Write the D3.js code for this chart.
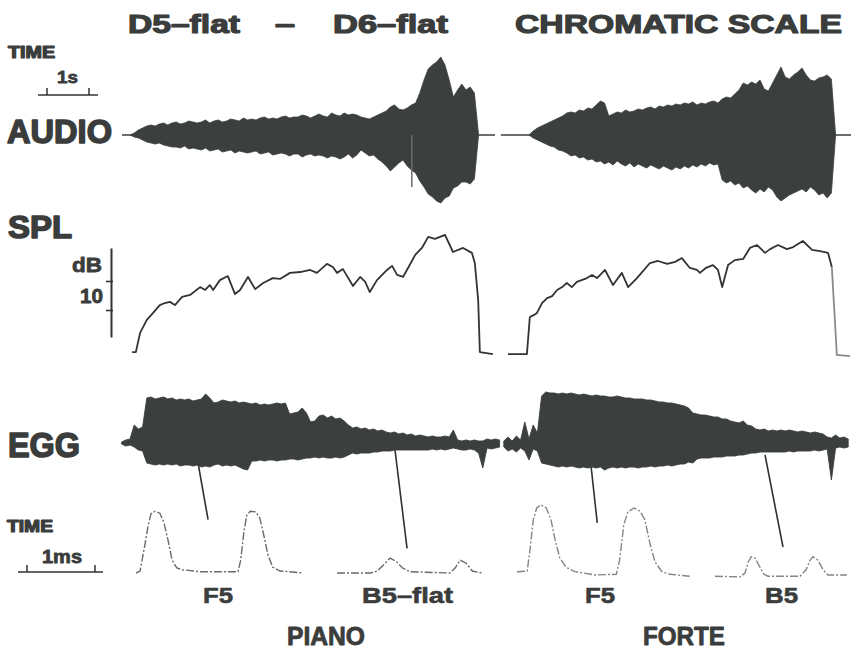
<!DOCTYPE html>
<html>
<head>
<meta charset="utf-8">
<script src="https://cdn.jsdelivr.net/npm/d3@7"></script>
<style>
  body { margin: 0; background: #fff; }
  svg { display: block; background: #fff; }
  text { font-family: "Liberation Sans", Arial, Helvetica, sans-serif; font-weight: bold; fill: #3a3d3c; stroke: #3a3d3c; stroke-linejoin: round; }
</style>
</head>
<body>
<svg id="chart" width="851" height="651"></svg>
<script>
// ---------- Audio envelope (arbitrary amplitude units), sampled every 0.1 s ----------
const audioStep = 0.1;
const audioPianoStart = 0;
const audioPianoUpper = [0,2,5,7,9,10,9,11,12,10, 12,13,11,12,14,13,12,13,15,12, 14,15,13,14,16,15,14,17,15,16,
  15,17,18,16,17,16,18,19,17,18, 18,20,19,17,19,21,19,18,22,20, 19,22,20,21,20,18,17,16,18,20,
  22,24,28,30,26,25,27,30,32,42, 55,66,70,73,78,70,55,38,45,51, 45,48,42,0];
const audioPianoLower = [0,2,3,5,7,8,9,8,10,11, 12,12,13,11,14,13,14,15,13,16, 15,14,17,16,15,18,16,17,18,17,
  16,19,18,17,20,19,18,19,21,19, 19,22,20,19,21,20,21,23,21,22, 24,22,19,23,20,15,18,21,20,24,
  27,31,36,32,28,25,31,35,38,46, 52,59,62,66,68,63,61,53,51,47, 47,49,44,0];
const audioForteStart = 9.5;
const audioForteUpper = [0,4,7,9,11,13,15,17,19,22, 23,22,25,24,27,26,30,34,32,19, 21,23,22,25,23,24,26,25,27,28,
  26,29,28,30,29,31,30,32,31,33, 30,32,31,33,34,32,36,38,37,41, 45,52,50,53,51,55,46,44,52,60,
  68,58,56,60,63,67,60,55,54,57, 58,60,56,0];
const audioForteLower = [0,3,5,7,9,11,12,15,16,18, 21,20,23,22,25,24,27,26,29,27, 30,26,29,31,28,32,29,31,33,30,
  32,34,31,33,35,32,34,31,33,30, 32,29,31,28,30,29,45,48,46,50, 48,53,51,55,58,54,57,52,55,62,
  66,63,60,58,56,54,57,52,55,60, 58,63,58,0];
// isolated transient spikes [time s, amplitude]
const audioSpikes = [[6.71, -52]];
// silent baseline stretches [from s, to s]
const audioBaseline = [[-0.19, 8.69], [8.83, 17.2]];

// ---------- SPL (dB) ----------
const splPiano = [[0.05,5.5],[0.14,5.5],[0.24,12.1],[0.40,16.6],[0.55,19.0],[0.71,21.7],[0.83,22.4],[0.95,22.8],
  [1.07,21.7],[1.24,24.5],[1.43,25.2],[1.67,27.9],[1.79,26.9],[1.90,28.6],[1.98,26.9],[2.14,30.3],[2.33,31.7],
  [2.50,25.5],[2.62,26.9],[2.81,31.4],[2.98,27.2],[3.17,29.3],[3.40,31.0],[3.57,30.7],[3.81,32.8],[4.05,33.1],
  [4.29,33.8],[4.45,32.8],[4.69,35.9],[4.83,34.8],[4.93,32.8],[5.07,34.1],[5.31,28.3],[5.48,31.4],[5.60,29.7],
  [5.71,26.2],[5.88,30.3],[6.12,33.8],[6.24,35.2],[6.36,32.1],[6.50,31.4],[6.62,34.5],[6.79,39.0],[6.95,41.4],
  [7.10,45.2],[7.26,44.5],[7.50,45.9],[7.69,40.0],[7.93,41.4],[8.14,39.7],[8.21,36.2],[8.29,23.4],[8.33,5.5],[8.64,4.8]];
const splForte = [[9.0,4.8],[9.45,4.8],[9.52,17.6],[9.62,18.3],[9.69,19.0],[9.81,22.4],[9.93,24.1],[10.05,24.8],
  [10.17,26.9],[10.29,27.9],[10.40,29.3],[10.52,27.9],[10.64,29.7],[10.88,31.0],[11.0,32.1],[11.12,31.0],[11.31,33.8],
  [11.50,28.6],[11.71,32.8],[11.86,27.9],[12.07,31.0],[12.38,36.2],[12.57,36.9],[12.79,35.9],[12.98,36.6],[13.14,37.9],
  [13.33,34.5],[13.50,33.8],[13.57,32.8],[13.71,34.5],[13.88,35.5],[14.0,33.8],[14.10,27.9],[14.24,35.5],[14.40,37.2],
  [14.60,37.6],[14.76,41.4],[14.93,42.4],[15.12,39.7],[15.24,41.0],[15.43,42.4],[15.64,41.0],[15.79,41.7],[16.02,43.8],
  [16.24,40.7],[16.43,40.3],[16.62,39.7],[16.71,34.8]];
const splForteTail = [[16.71,34.8],[16.83,4.5],[17.14,4.1]];
const splTicks = [20, 30];

// ---------- EGG envelope (arbitrary units), sampled every 0.1 s ----------
const eggPianoStart = -0.2;
const eggPianoUpper = [1,3,4,18,14,16,45,46,44,45, 46,44,45,43,44,43,44,42,43,44, 49,45,40,41,43,42,41,42,40,41,
  40,39,40,38,39,38,39,40,39,40, 29,30,31,35,30,21,22,27,28,25, 27,24,25,22,18,15,16,14,15,13,
  14,12,13,11,10,11,9,10,8,9, 7,8,7,6,7,6,6,7,6,13, 3,2,3,2,3,2,2,4,3,4, 3];
const eggPianoLower = [1,3,2,4,7,8,20,21,22,21, 22,21,22,21,23,22,22,23,22,24, 23,24,22,21,23,22,23,22,24,26,
  27,18,18,17,18,17,17,18,17,17, 16,16,17,16,15,15,14,15,14,15, 15,14,15,14,12,10,11,10,10,10,
  9,9,8,8,8,7,7,7,7,7, 7,7,7,7,6,7,6,7,6,5, 6,7,7,6,7,10,25,5,6,5, 4];
const eggForteStart = 8.9;
const eggForteUpper = [2,6,2,7,3,21,4,18,10,47, 51,50,50,49,50,49,50,49,48,49, 48,47,48,47,47,46,46,47,46,45,
  45,44,44,44,43,43,42,41,41,40, 40,39,38,37,35,30,29,28,28,27, 26,26,24,24,22,21,20,22,18,17,
  14,13,14,12,13,12,13,12,13,12, 11,12,11,10,11,10,9,6,5,8, 5,6,4];
const eggForteLower = [4,8,6,9,5,8,17,6,8,20, 21,22,23,24,23,24,23,24,25,24, 25,24,25,24,27,25,24,25,24,25,
  24,24,25,24,24,23,24,23,23,22, 23,22,21,21,19,20,16,15,15,15, 14,14,14,13,13,13,12,12,11,10,
  10,9,9,9,9,9,9,9,8,9, 8,8,8,8,7,8,7,6,37,5, 4,5,4];

// ---------- EGG single-cycle waveforms [time ms, normalised amplitude] ----------
const pulsePianoF5 = [[0,0],[0.06,0.03],[0.13,0.43],[0.18,0.74],[0.22,0.91],[0.28,0.95],[0.35,0.92],[0.41,0.78],
  [0.47,0.51],[0.53,0.2],[0.60,0.08],[0.68,0.05],[0.94,0.02],[1.50,0.02],[1.54,0.2],[1.59,0.66],[1.63,0.89],
  [1.68,0.95],[1.76,0.94],[1.82,0.85],[1.88,0.58],[1.94,0.28],[2.01,0.09],[2.12,0.03],[2.26,0.02],[2.46,0]];
const pulsePianoB5flat = [[0,0],[0.49,0],[0.59,0.03],[0.68,0.12],[0.78,0.23],[0.87,0.18],[0.96,0.08],[1.07,0.02],
  [1.66,0],[1.74,0.08],[1.81,0.2],[1.90,0.15],[1.99,0.03],[2.13,0]];
const pulseForteF5 = [[0,0.02],[0.15,0.03],[0.19,0.35],[0.24,0.82],[0.29,1.0],[0.35,1.05],[0.43,1.0],[0.50,0.82],
  [0.56,0.51],[0.63,0.23],[0.72,0.09],[0.85,0.02],[1.15,-0.03],[1.46,-0.02],[1.51,0.2],[1.57,0.74],[1.63,0.94],
  [1.72,1.0],[1.81,0.95],[1.88,0.82],[1.96,0.43],[2.03,0.17],[2.13,0.02],[2.25,-0.02],[2.54,-0.05]];
const pulseForteB5 = [[0,-0.05],[0.37,-0.06],[0.44,0],[0.49,0.17],[0.53,0.25],[0.59,0.23],[0.65,0.11],[0.72,-0.02],
  [0.78,-0.05],[1.25,-0.05],[1.34,0.05],[1.40,0.2],[1.44,0.25],[1.51,0.2],[1.59,0.05],[1.66,-0.03],[1.94,-0.03]];
const pulseNames = ["F5", "B5–flat", "F5", "B5"];
const dynamics = ["PIANO", "FORTE"];

// pointers from the EGG record to the cycle it shows: time s, EGG level, cycle ms, cycle amplitude
const pointers = [
  { t: 1.62, egg: -20, ms: 1.06, amp: 0.82 },
  { t: 6.31, egg: -7, ms: 1.03, amp: 0.38 },
  { t: 10.98, egg: -24, ms: 1.18, amp: 0.77 },
  { t: 15.12, egg: -12, ms: 1.0, amp: 0.4 }
];

// ---------- drawing ----------
const ink = "#3b3f3e";
const svg = d3.select("#chart");

const x = d3.scaleLinear().domain([0, 17]).range([130, 844]);
const audioY = d3.scaleLinear().domain([-80, 80]).range([215, 55]);
const splY = d3.scaleLinear().domain([0, 50]).range([368, 223]);
const eggY = d3.scaleLinear().domain([-50, 50]).range([493, 393]);
const pulseY = d3.scaleLinear().domain([0, 1]).range([573, 508]);
const pulseLeft = [136, 337, 517, 715];
const msWidth = 68;
const pulseX = pulseLeft.map(l => d3.scaleLinear().domain([0, 1]).range([l, l + msWidth]));

function samples(start, upper, lower) {
  return upper.map((u, i) => ({ t: start + i * audioStep, u, l: lower[i] }));
}
function envelopeArea(yScale) {
  return d3.area().x(d => x(d.t)).y0(d => yScale(-d.l)).y1(d => yScale(d.u));
}

// Audio
const gA = svg.append("g");
audioBaseline.forEach(([a, b]) => {
  gA.append("line").attr("x1", x(a)).attr("x2", x(b))
    .attr("y1", audioY(0)).attr("y2", audioY(0))
    .attr("stroke", ink).attr("stroke-width", 1.5);
});
[[audioPianoStart, audioPianoUpper, audioPianoLower], [audioForteStart, audioForteUpper, audioForteLower]]
  .forEach(([s, u, l]) => {
    gA.append("path").datum(samples(s, u, l)).attr("d", envelopeArea(audioY))
      .attr("fill", ink).attr("stroke", ink).attr("stroke-width", 0.8).attr("stroke-linejoin", "miter");
  });
audioSpikes.forEach(([t, a]) => {
  gA.append("line").attr("x1", x(t)).attr("x2", x(t)).attr("y1", audioY(0)).attr("y2", audioY(a))
    .attr("stroke", "#6a6d6c").attr("stroke-width", 1.5);
});

// SPL
const gS = svg.append("g");
const splLine = d3.line().x(d => x(d[0])).y(d => splY(d[1]));
gS.append("path").datum(splPiano).attr("d", splLine)
  .attr("fill", "none").attr("stroke", "#333").attr("stroke-width", 1.8).attr("stroke-linejoin", "round");
gS.append("path").datum(splForte).attr("d", splLine)
  .attr("fill", "none").attr("stroke", "#333").attr("stroke-width", 1.8).attr("stroke-linejoin", "round");
gS.append("path").datum(splForteTail).attr("d", splLine)
  .attr("fill", "none").attr("stroke", "#8a8a8a").attr("stroke-width", 1.8);

const splAxisScale = splY.copy().domain([10.7, 41.4]).range([splY(10.7), splY(41.4)]);
const splAxis = svg.append("g").attr("transform", "translate(111,0)")
  .call(d3.axisLeft(splAxisScale).tickValues(splTicks).tickSize(5).tickSizeOuter(0).tickFormat(""));
splAxis.select(".domain").attr("stroke", "#333").attr("stroke-width", 2);
splAxis.selectAll(".tick line").attr("stroke", "#333").attr("stroke-width", 1.6).attr("x2", -5).attr("x1", 2);

// EGG
const gE = svg.append("g");
[[eggPianoStart, eggPianoUpper, eggPianoLower], [eggForteStart, eggForteUpper, eggForteLower]]
  .forEach(([s, u, l]) => {
    gE.append("path").datum(samples(s, u, l)).attr("d", envelopeArea(eggY))
      .attr("fill", ink).attr("stroke", ink).attr("stroke-width", 0.9);
  });

// EGG cycles
const pulses = [pulsePianoF5, pulsePianoB5flat, pulseForteF5, pulseForteB5];
pulses.forEach((p, i) => {
  const line = d3.line().x(d => pulseX[i](d[0])).y(d => pulseY(d[1]));
  svg.append("path").datum(p).attr("d", line)
    .attr("fill", "none").attr("stroke", i >= 2 ? "#858585" : "#6a6a6a").attr("stroke-width", 1.4)
    .attr("stroke-dasharray", "8,2,2,2");
});

// pointer lines
pointers.forEach((p, i) => {
  svg.append("line")
    .attr("x1", x(p.t)).attr("y1", eggY(p.egg))
    .attr("x2", pulseX[i](p.ms)).attr("y2", pulseY(p.amp))
    .attr("stroke", "#2f3231").attr("stroke-width", 1.6);
});

// scale bars
function scaleBar(x0, len, y, over, under) {
  const g = svg.append("g").attr("stroke", "#333").attr("stroke-width", 1.5);
  g.append("line").attr("x1", x0 - over).attr("x2", x0 + len + under).attr("y1", y).attr("y2", y);
  [x0, x0 + len].forEach(v => g.append("line").attr("x1", v).attr("x2", v).attr("y1", y).attr("y2", y - 7));
}
scaleBar(47, x(1) - x(0), 95, 9, 9);
scaleBar(27, pulseX[0](1) - pulseX[0](0), 572, 9, 8);

// text
function label(str, xPos, y, size, len, weight) {
  svg.append("text").attr("x", xPos).attr("y", y).attr("font-size", size)
    .attr("stroke-width", weight)
    .attr("textLength", len).attr("lengthAdjust", "spacingAndGlyphs").text(str);
}
label("D5–flat", 128, 33, 26, 112, 1.2);
label("–", 275, 33, 26, 20, 1.2);
label("D6–flat", 333, 33, 26, 115, 1.2);
label("CHROMATIC SCALE", 515, 33, 26, 327, 1.2);
label("TIME", 8, 58, 16, 47, 1.2);
label("1s", 57, 83, 17, 21, 0.8);
label("AUDIO", 7, 143, 33.5, 105, 1.6);
label("SPL", 8, 238, 32, 64, 1.6);
label("EGG", 8, 457, 35, 72, 1.6);
label("dB", 72, 272, 21, 30, 0.8);
label("10", 80, 303, 21, 23, 0.8);
label("TIME", 7, 532, 16, 46, 1.2);
label("1ms", 42, 563, 18, 40, 0.8);
const nameX = [203, 362, 585, 765];
const nameLen = [30, 91, 30, 33];
pulseNames.forEach((n, i) => label(n, nameX[i], 603, 22, nameLen[i], 0.6));
label(dynamics[0], 287, 645, 25, 78, 0.8);
label(dynamics[1], 643, 645, 25, 82, 0.8);
</script>
</body>
</html>
